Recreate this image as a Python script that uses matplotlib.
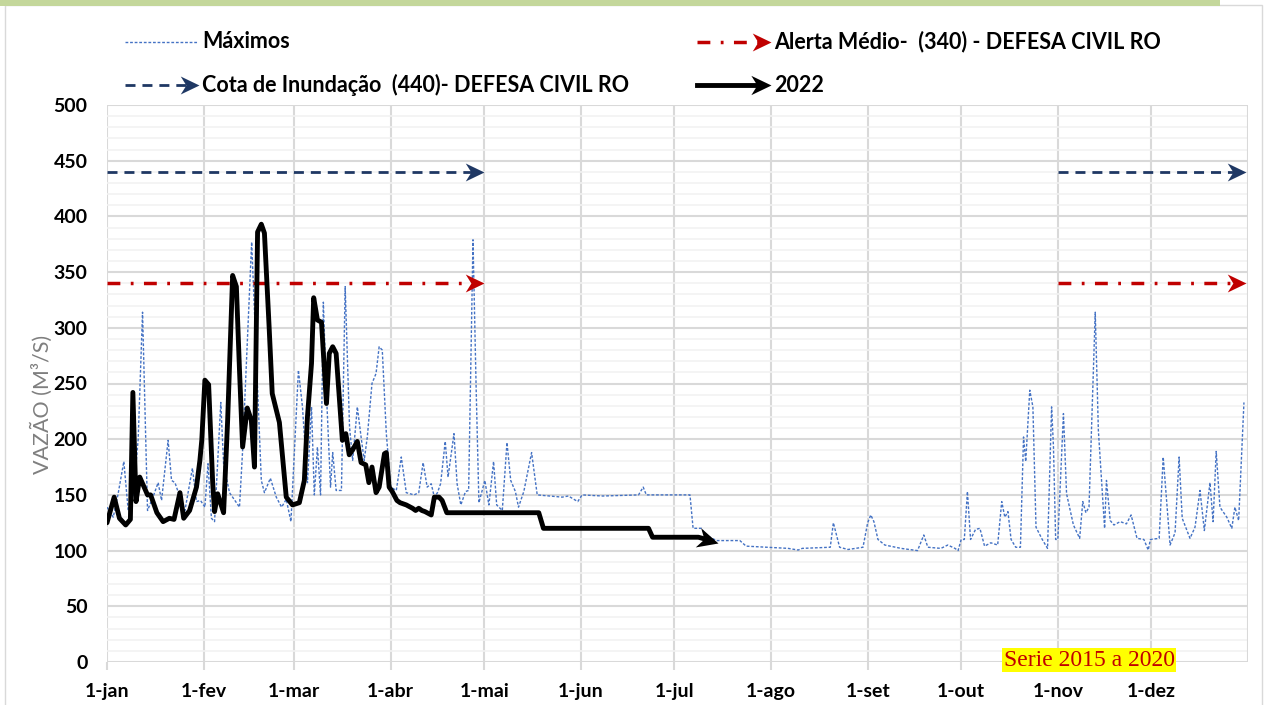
import numpy as np
import matplotlib.pyplot as plt
from matplotlib.patches import Rectangle
from matplotlib.ticker import MultipleLocator
from matplotlib.path import Path
from matplotlib.markers import MarkerStyle
from matplotlib.transforms import Affine2D

# Dados (dia do ano, vazao m3/s)
dias_2022 = [0, 2.3, 4, 6, 7.5, 8.3, 9.3, 10.5, 13, 14, 16, 18, 20, 21.5, 23.4, 24.6,
             26.5, 28.7, 29.8, 30.4, 31.4, 32.6, 33.9, 34.5, 35.5, 37.4, 38.7, 40.3,
             41.5, 42.5, 43.5, 45, 46.3, 47.3, 48.3, 49.5, 50.5, 52, 53, 55.3, 57.5,
             59.5, 61.7, 63.3, 64.3, 65.6, 66.3, 67.5, 68.8, 70.4, 71.3, 72.4, 73.5,
             75.5, 76.6, 77.7, 78.7, 80.3, 81.5, 83, 84, 85, 86.3, 87.3, 89, 89.6,
             90.5, 91.5, 93, 94, 96, 98, 99, 100, 101, 102, 104, 105, 106.5, 107.5,
             109, 138.5, 140, 173.7, 175, 189.7, 196]
vazao_2022 = [125, 148, 129, 123, 128, 242, 144, 166, 150, 150, 134, 126, 129, 128, 152, 129,
              136, 157, 181, 199, 253, 249, 161, 135, 151, 134, 217, 347,
              337, 262, 193, 228, 217, 175, 386, 393, 385, 301, 241, 215, 148,
              141, 143, 163, 220, 268, 327, 307, 305, 232, 277, 283, 277,
              199, 205, 186, 190, 198, 179, 177, 161, 175, 152, 157, 187, 188,
              157, 153, 145, 143, 141, 138, 136, 138, 136, 135, 132, 148, 148, 145,
              134, 134, 120, 120, 112, 112, 107]

dias_max = [0, 2, 3.5, 5.4, 6.8, 8.5, 10, 11.4, 13, 15, 16.4, 17.5, 19.6, 20.7, 21.8, 23.4,
            25, 27.4, 28.7, 30, 31.4, 32.4, 33.5, 34.5, 36.5, 37.4, 39.3, 42.5, 43.5, 46.4,
            49.5, 50.5, 52.4, 54.3, 56, 57.5, 59, 61.4, 62.7, 64.3, 65.6, 66.5, 67.5, 68.5,
            69.4, 70.3, 71.7, 72.4, 73.5, 75.2, 76.4, 77.8, 78.8, 80.3, 81.5, 82.5, 83.5,
            85, 86.3, 87.3, 88.3, 89.6, 91, 92.8, 94.4, 96, 98.5, 100, 101.4, 102.7, 104,
            105, 106, 107, 108.5, 109.4, 111.3, 112.3, 113.5, 115, 116, 117.4, 118.4, 119.3,
            121.2, 122.5, 124, 125, 126.8, 128.3, 129.5, 131, 132, 133.7, 136.2, 138, 146,
            148, 151, 152.4, 159, 170.5, 172, 173, 187, 188, 190.7, 192, 195.5, 203, 205,
            212, 218.5, 221.7, 223, 232, 233, 235, 237.7, 242.5, 244, 245, 246, 247.3,
            249.5, 254.7, 260, 262, 263.3, 267.5, 269.7, 272, 273, 274, 275, 276, 277,
            278.6, 280, 281.5, 283.5, 285.7, 287, 288, 289, 290, 291.5, 293, 294, 294.7,
            296, 297, 298, 300, 301.7, 303, 303.6, 304.3, 305, 306.8, 307.8, 310, 312, 313,
            314, 315, 317, 318, 320, 320.6, 321.8, 323, 325, 327, 328.5, 330.4, 332.6, 334,
            334.7, 337.5, 338.8, 341, 342.6, 343.9, 344.9, 347.4, 349, 350.6, 352, 353.8,
            354.8, 355.8, 357, 359.2, 360.8, 361.8, 363, 364.7]
vazao_max = [139, 130, 150, 180, 136, 150, 200, 314, 136, 150, 161, 145, 199, 163, 161, 148,
             136, 174, 144, 145, 139, 178, 129, 126, 233, 178, 152, 139, 190, 377,
             163, 152, 165, 148, 139, 146, 126, 262, 229, 161, 229, 150, 193, 150,
             323, 247, 157, 188, 154, 154, 337, 211, 181, 229, 202, 181, 202,
             250, 259, 283, 280, 205, 157, 154, 184, 152, 150, 152, 179, 157, 160,
             148, 152, 160, 198, 166, 205, 160, 141, 153, 154, 379, 247, 143,
             163, 141, 180, 141, 136, 197, 163, 153, 139, 153, 188, 150, 148,
             149, 144, 150, 149, 150, 157, 150, 150, 120, 120, 114, 109, 109, 104,
             103, 102, 100.5, 102, 103, 125, 103, 101, 103, 125, 132, 126, 110,
             105, 102, 100, 114, 103, 102, 105, 102, 100, 110, 110, 153, 110,
             119, 120, 104, 107, 105, 144, 130, 135, 110, 103, 103, 202, 180,
             244, 229, 121, 110, 102, 229, 193, 110, 110, 223, 151, 123, 111, 144,
             134, 139, 314, 208, 120, 163, 127, 123, 126, 124, 132, 111, 110, 100.5,
             110, 111, 184, 105, 116, 184, 129, 111, 121, 154, 118, 161,
             126, 189, 139, 130, 120, 139, 127, 233]

meses_dias = [0, 31, 60, 91, 121, 152, 182, 213, 244, 274, 305, 335]
meses = ['1-jan', '1-fev', '1-mar', '1-abr', '1-mai', '1-jun', '1-jul', '1-ago',
         '1-set', '1-out', '1-nov', '1-dez']

cota_inundacao = 440
alerta_medio = 340
trechos_ref = [(0, 121), (305, 365.5)]

W, H = 1266, 705
fig = plt.figure(figsize=(W / 100, H / 100), dpi=100)
plt.rcParams['font.family'] = ['Lato', 'DejaVu Sans']

# ponta de seta estilo "stealth"
ponta = Path([(0, 0), (-1, 0.48), (-0.7, 0), (-1, -0.48), (0, 0)],
             [Path.MOVETO, Path.LINETO, Path.LINETO, Path.LINETO, Path.CLOSEPOLY])

def marcador(angulo=0):
    return MarkerStyle(ponta, transform=Affine2D().rotate_deg(angulo))

ax = fig.add_axes([107 / W, 1 - 662 / H, (1248 - 107) / W, (662 - 105) / H])
ax.set_xlim(0, 366)
ax.set_ylim(0, 500)
ax.yaxis.set_major_locator(MultipleLocator(50))
ax.yaxis.set_minor_locator(MultipleLocator(10))
ax.set_xticks(meses_dias)
ax.set_xticklabels(meses, fontweight='bold', fontsize=14)
for lab in ax.get_yticklabels():
    lab.set_fontweight('bold')
    lab.set_fontsize(14)
ax.grid(which='major', axis='y', color='#D9D9D9', lw=1.5)
ax.grid(which='minor', axis='y', color='#F2F2F2', lw=1.2)
ax.grid(which='major', axis='x', color='#D9D9D9', lw=1.5)
ax.axvline(366, color='#D9D9D9', lw=1.5)
ax.set_axisbelow(True)
for s in ax.spines.values():
    s.set_visible(False)
ax.tick_params(axis='x', length=6, width=1.5, color='#D9D9D9', pad=9)
ax.tick_params(axis='y', which='both', length=0, pad=14)

# Maximos
ax.plot(dias_max, vazao_max, color='#4472C4', lw=1, ls=(0, (2, 1.3)))

# linhas de referencia com seta
for a, b in trechos_ref:
    ax.plot([a, b - 2], [cota_inundacao] * 2, color='#1F3864', ls=(0, (3.6, 2.5)), lw=2)
    ax.plot([b], [cota_inundacao], marker=marcador(), ms=27, color='#1F3864', mew=0)
    ax.plot([a, b - 2], [alerta_medio] * 2, color='#C00000', ls=(0, (3.7, 3, 0.8, 3)), lw=2.5)
    ax.plot([b], [alerta_medio], marker=marcador(), ms=27, color='#C00000', mew=0)

# 2022
ax.plot(dias_2022[:-1] + [dias_2022[-1] - 2], vazao_2022[:-1] + [vazao_2022[-1] + 1.7],
        color='black', lw=3.5, solid_joinstyle='round', solid_capstyle='round')
p0 = ax.transData.transform((dias_2022[-2], vazao_2022[-2]))
p1 = ax.transData.transform((dias_2022[-1], vazao_2022[-1]))
ang = np.degrees(np.arctan2(p1[1] - p0[1], p1[0] - p0[0]))
ax.plot([dias_2022[-1]], [vazao_2022[-1]], marker=marcador(ang), ms=30, color='black', mew=0)

# camada em pixels para moldura, legenda e textos
ov = fig.add_axes([0, 0, 1, 1], zorder=5)
ov.set_xlim(0, W)
ov.set_ylim(H, 0)
ov.axis('off')
ov.add_patch(Rectangle((5, 5), W - 9, H, fill=False, ec='#D9D9D9', lw=1))
ov.add_patch(Rectangle((0, 0), 1220, 6, color='#C4D79B', lw=0))

def item(x, y, texto, cor, ls, lw, seta, ms=27):
    if seta:
        ov.plot([x, x + 64], [y, y], color=cor, ls=ls, lw=lw)
        ov.plot([x + 74], [y], marker=marcador(), ms=ms, color=cor, mew=0)
    else:
        ov.plot([x, x + 72], [y, y], color=cor, ls=ls, lw=lw)
    ov.text(x + 77, y, texto, fontsize=15.5, fontweight='bold', va='center', ha='left')

item(125, 42, 'Máximos', '#4472C4', (0, (2, 1.3)), 1, False)
item(125, 85, 'Cota de Inundação  (440)- DEFESA CIVIL RO', '#1F3864', (0, (3.6, 2.5)), 2, True)
item(697, 42, 'Alerta Médio-  (340) - DEFESA CIVIL RO', '#C00000', (0, (3.7, 3, 0.8, 3)), 2.5, True)
item(697, 85, '2022', 'black', '-', 3.5, True, ms=29)

ov.text(42, 404, 'VAZÃO (M³/S)', rotation=90, color='#7F7F7F', fontsize=15.5,
        ha='center', va='center')
ov.text(1089, 660, 'Serie 2015 a 2020', family='Liberation Serif', color='#C00000',
        fontsize=17, ha='center', va='center',
        bbox=dict(boxstyle='square,pad=0.05', fc='#FFFF00', ec='none'))

fig.savefig('out.png', dpi=100)
